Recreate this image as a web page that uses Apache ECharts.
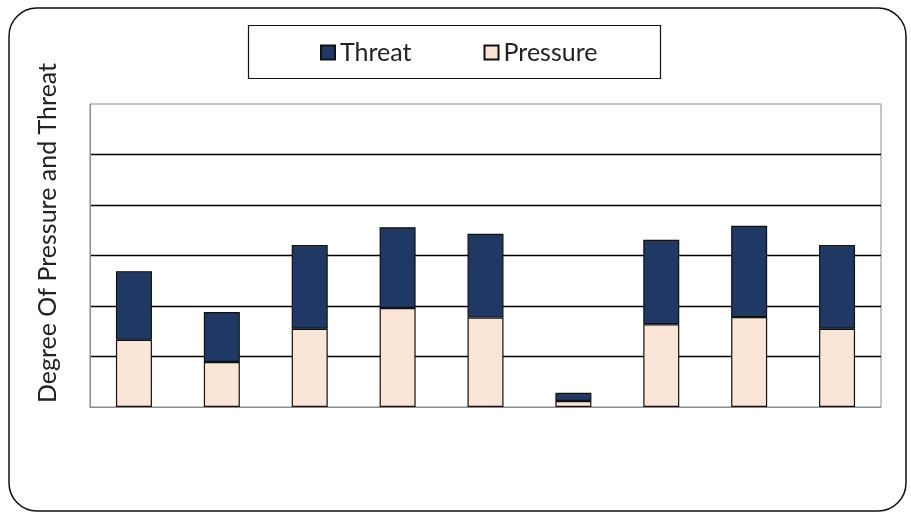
<!DOCTYPE html>
<html>
<head>
<meta charset="utf-8">
<script src="https://cdn.jsdelivr.net/npm/echarts@6/dist/echarts.min.js"></script>
<style>
  html, body { margin: 0; padding: 0; background: #fff; }
  #chart { width: 911px; height: 513px; }
</style>
</head>
<body>
<div id="chart"></div>
<script>
// Nine sites, no category labels shown
const categories = ['1', '2', '3', '4', '5', '6', '7', '8', '9'];
// Stacked values: pressure at the base, threat on top
const pressure = [1.33, 0.89, 1.55, 1.96, 1.77, 0.12, 1.64, 1.78, 1.55];
const threat   = [1.36, 0.99, 1.66, 1.60, 1.66, 0.16, 1.67, 1.81, 1.66];
const axisMax = 6;
const axisStep = 1;

const chart = echarts.init(document.getElementById('chart'));
chart.setOption({
  animation: false,
  backgroundColor: '#ffffff',
  graphic: [
    {
      type: 'rect',
      shape: { x: 9, y: 8, width: 897, height: 503, r: 28 },
      style: { fill: 'none', stroke: '#111', lineWidth: 1.5 }
    },
    {
      type: 'rect',
      shape: { x: 248.5, y: 25.5, width: 412, height: 53 },
      style: { fill: 'none', stroke: '#111', lineWidth: 1.2 }
    },
    {
      type: 'text',
      x: 48, y: 233,
      rotation: Math.PI / 2,
      style: {
        text: 'Degree Of Pressure and Threat',
        font: '25px Lato',
        fill: '#222',
        align: 'center',
        verticalAlign: 'middle'
      }
    }
  ],
  legend: {
    data: ['Threat', 'Pressure'],
    left: 320,
    top: 40,
    padding: 0,
    itemWidth: 14,
    itemHeight: 14,
    itemGap: 72,
    icon: 'rect',
    textStyle: { fontFamily: 'Lato', fontSize: 25, color: '#222' }
  },
  grid: {
    left: 90, right: 30, top: 104, bottom: 106,
    show: true, borderColor: '#8c8c8c', borderWidth: 1, backgroundColor: 'transparent'
  },
  xAxis: {
    type: 'category',
    data: categories,
    axisLine: { show: true, lineStyle: { color: '#8c8c8c' } },
    axisTick: { show: false },
    axisLabel: { show: false }
  },
  yAxis: {
    type: 'value',
    min: 0, max: axisMax, interval: axisStep,
    axisLine: { show: true, lineStyle: { color: '#8c8c8c' } },
    axisTick: { show: false },
    axisLabel: { show: false },
    splitLine: { show: true, showMinLine: false, showMaxLine: false, lineStyle: { color: '#000', width: 1.3 } }
  },
  series: [
    {
      name: 'Pressure',
      type: 'bar',
      stack: 'total',
      data: pressure,
      barWidth: 36,
      itemStyle: { color: '#fbe5d6', borderColor: '#111', borderWidth: 1.2 }
    },
    {
      name: 'Threat',
      type: 'bar',
      stack: 'total',
      data: threat,
      barWidth: 36,
      itemStyle: { color: '#1f3864', borderColor: '#111', borderWidth: 1.2 }
    }
  ]
});
</script>
</body>
</html>
